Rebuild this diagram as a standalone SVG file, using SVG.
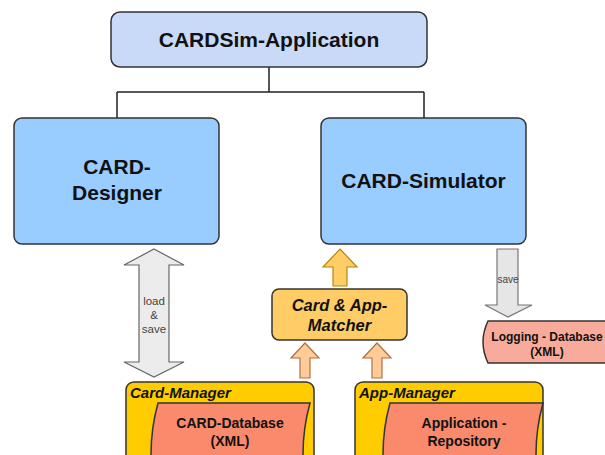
<svg xmlns="http://www.w3.org/2000/svg" width="605" height="455" viewBox="0 0 605 455">
<style>
text{font-family:"Liberation Sans",Arial,sans-serif;text-anchor:middle;fill:#111}
.b{font-weight:bold}
.bi{font-weight:bold;font-style:italic}
.box{stroke:#333;stroke-width:1.5}
.conn{fill:none;stroke:#222;stroke-width:1.5}
</style>
<rect width="605" height="455" fill="#fff"/>
<g id="connectors">
<path class="conn" d="M269,67 V92 M117,92 H424 M117,92 V118 M424,92 V118"/>
<path id="load-save" d="M154,249 L184,265 L169,265 L169,362 L184,362 L154,377 L124,362 L139,362 L139,265 L124,265 Z" fill="#ececec" stroke="#666" stroke-width="1.2"/>
<text x="154" y="305" font-size="11.5" fill="#444" style="fill:#444">load</text>
<text x="154" y="319" font-size="11.5" style="fill:#444">&amp;</text>
<text x="154" y="333" font-size="11.5" style="fill:#444">save</text>
<path id="matcher-up" d="M340,249 L357,267 L347,267 L347,286 L333,286 L333,267 L323,267 Z" fill="#ffcc66" stroke="#b8860b" stroke-width="1.2"/>
<path id="card-up" d="M305,343 L319,358 L310,358 L310,378 L300,378 L300,358 L291,358 Z" fill="#ffcc99" stroke="#b07040" stroke-width="1.2"/>
<path id="app-up" d="M377,343 L391,358 L382,358 L382,378 L372,378 L372,358 L363,358 Z" fill="#ffcc99" stroke="#b07040" stroke-width="1.2"/>
<path id="save" d="M497,249 L518,249 L518,305 L532,305 L508,317 L485,305 L497,305 Z" fill="#e6e6e6" stroke="#777" stroke-width="1.2"/>
<text x="508" y="283" font-size="10" style="fill:#444">save</text>
</g>
<g id="app">
<rect class="box" x="111" y="12" width="316" height="55" rx="9" fill="#c9daf8"/>
<text class="b" x="269" y="47" font-size="21">CARDSim-Application</text>
</g>
<g id="designer">
<rect class="box" x="14" y="118" width="205" height="126" rx="8" fill="#99ccff"/>
<text class="b" x="117" y="174" font-size="21">CARD-</text>
<text class="b" x="117" y="200" font-size="21">Designer</text>
</g>
<g id="simulator">
<rect class="box" x="321" y="118" width="205" height="126" rx="8" fill="#99ccff"/>
<text class="b" x="423.5" y="188" font-size="21">CARD-Simulator</text>
</g>
<g id="matcher">
<rect class="box" x="272" y="289" width="135" height="51" rx="7" fill="#ffcc66"/>
<text class="bi" x="339.5" y="311" font-size="16.5">Card &amp; App-</text>
<text class="bi" x="339.5" y="331" font-size="16.5">Matcher</text>
</g>
<g id="logging">
<path class="box" d="M488,321 L610,321 L610,363 L488,363 Q478,342 488,321 Z" fill="#f9ab9b"/>
<text class="b" x="547" y="341" font-size="12">Logging - Database</text>
<text class="b" x="547" y="356" font-size="12">(XML)</text>
</g>
<g id="card-manager">
<rect class="box" x="126" y="382" width="188" height="90" rx="8" fill="#ffcc00"/>
<text class="bi" x="130" y="398" font-size="15" style="text-anchor:start">Card-Manager</text>
<path class="box" d="M158,403 L310,403 Q296,454 310,505 L158,505 Q144,454 158,403 Z" fill="#fa8a6c"/>
<text class="b" x="230" y="428" font-size="14">CARD-Database</text>
<text class="b" x="230" y="446" font-size="14">(XML)</text>
</g>
<g id="app-manager">
<rect class="box" x="355" y="382" width="188" height="90" rx="8" fill="#ffcc00"/>
<text class="bi" x="359" y="398" font-size="15" style="text-anchor:start">App-Manager</text>
<path class="box" d="M390,403 L543,403 Q529,454 543,505 L390,505 Q376,454 390,403 Z" fill="#fa8a6c"/>
<text class="b" x="464" y="428" font-size="14">Application -</text>
<text class="b" x="464" y="446" font-size="14">Repository</text>
</g>
</svg>
